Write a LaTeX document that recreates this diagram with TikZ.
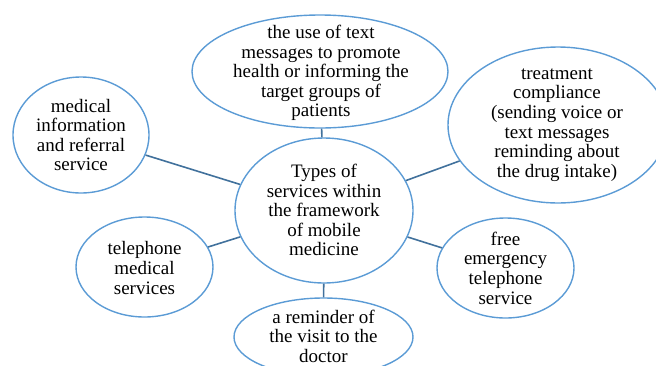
\documentclass[tikz,border=0pt]{standalone}
\usepackage{fontspec}
\setmainfont{Liberation Serif}
\usetikzlibrary{shapes.geometric}
\definecolor{bubbleblue}{HTML}{5B9BD5}
\definecolor{linkblue}{HTML}{41719C}
\tikzset{
  bubble/.style={ellipse, draw=bubbleblue, line width=1.4pt, inner sep=0pt},
  txt/.style={align=center, font=\fontsize{19}{19.6}\selectfont, inner sep=0pt, text=black},
  link/.style={draw=linkblue, line width=1.6pt}
}
\begin{document}
\begin{tikzpicture}[x=1pt,y=-1pt]
\useasboundingbox (0,0) rectangle (656,365);
\clip (0,0) rectangle (656,365);
% bubbles
\node[bubble, minimum width=256pt, minimum height=113pt] (tp) at (320,71.5) {};
\node[bubble, minimum width=136pt, minimum height=116pt] (mi) at (81,135) {};
\node[bubble, minimum width=178pt, minimum height=145pt] (ct) at (324,210.5) {};
\node[bubble, minimum width=220pt, minimum height=156pt] (tc) at (558,125) {};
\node[bubble, minimum width=137pt, minimum height=100pt] (tm) at (144.5,267) {};
\node[bubble, minimum width=137pt, minimum height=100pt] (fe) at (505.5,268) {};
\node[bubble, minimum width=179pt, minimum height=78pt] (rv) at (323.5,337) {};
% texts
\node[txt] (tpt) at (321,73) {the use of text\\messages to promote\\health or informing the\\target groups of\\patients};
\node[txt] (mit) at (81,135) {medical\\information\\and referral\\service};
\node[txt] (ctt) at (324,210) {Types of\\services within\\the framework\\of mobile\\medicine};
\node[txt] (tct) at (557,125) {treatment\\compliance\\(sending voice or\\text messages\\reminding about\\the drug intake)};
\node[txt] (tmt) at (144.5,268) {telephone\\medical\\services};
\node[txt] (fet) at (505.5,268) {free\\emergency\\telephone\\service};
\node[txt] (rvt) at (323.5,336) {a reminder of\\the visit to the\\doctor};
% connectors
\draw[link] (ct) -- (tp);
\draw[link] (ct) -- (mi);
\draw[link] (ct) -- (tc);
\draw[link] (ct) -- (tm);
\draw[link] (ct) -- (fe);
\draw[link] (ct) -- (rv);
\end{tikzpicture}
\end{document}
